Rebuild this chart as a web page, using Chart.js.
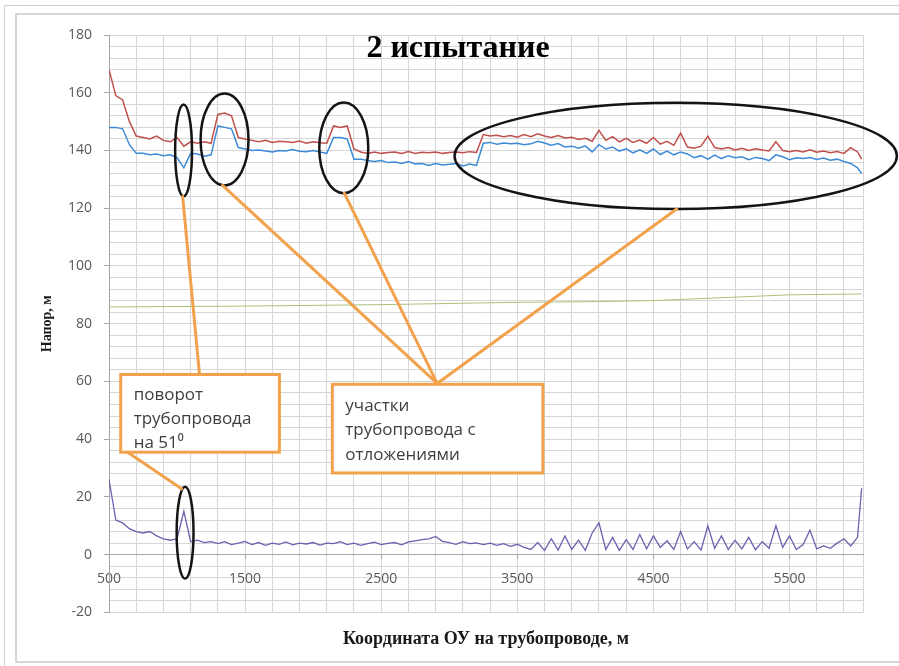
<!DOCTYPE html>
<html>
<head>
<meta charset="utf-8">
<script src="https://cdn.jsdelivr.net/npm/chart.js@4.4.1/dist/chart.umd.min.js"></script>
<style>
  html, body { margin: 0; padding: 0; background: #fff; }
  #wrap { width: 899px; height: 666px; }
</style>
</head>
<body>
<div id="wrap"><canvas id="chart" width="899" height="666"></canvas></div>
<script>
// координаты ОУ (м)
const coords = [
  500, 550, 600, 650, 700, 750, 800, 850, 900, 950,
  1000, 1050, 1100, 1150, 1200, 1250, 1300, 1350, 1400, 1450,
  1500, 1550, 1600, 1650, 1700, 1750, 1800, 1850, 1900, 1950,
  2000, 2050, 2100, 2150, 2200, 2250, 2300, 2350, 2400, 2450,
  2500, 2550, 2600, 2650, 2700, 2750, 2800, 2850, 2900, 2950,
  3000, 3050, 3100, 3150, 3200, 3250, 3300, 3350, 3400, 3450,
  3500, 3550, 3600, 3650, 3700, 3750, 3800, 3850, 3900, 3950,
  4000, 4050, 4100, 4150, 4200, 4250, 4300, 4350, 4400, 4450,
  4500, 4550, 4600, 4650, 4700, 4750, 4800, 4850, 4900, 4950,
  5000, 5050, 5100, 5150, 5200, 5250, 5300, 5350, 5400, 5450,
  5500, 5550, 5600, 5650, 5700, 5750, 5800, 5850, 5900, 5950,
  6000, 6030
];

// напор, верхняя (красная) кривая
const headRed = [
  168, 159, 157.5, 150, 145, 144.5, 144, 145, 143.5, 143,
  144.5, 141.5, 143, 142.5, 143, 142.5, 152.5, 153, 152, 144.5,
  144, 143.5, 143, 143.5, 142.8, 143.2, 143, 142.8, 143.3, 142.5,
  143, 142.7, 142.5, 148.5, 148, 148.5, 140.5, 139.5, 139, 139.5,
  139, 139.3, 139.5, 139, 139.6, 139, 139.4, 139.2, 139.5, 139,
  139.3, 139.5, 139.2, 139.6, 139.3, 145.5, 145, 145.3, 144.8, 145.2,
  144.6, 145.5, 144.8, 145.8, 145, 144.5, 145.2, 144.3, 144.6, 143.8,
  144.2, 143.2, 147, 143.5, 144.8, 143, 144.2, 142.8, 143.6, 142.5,
  144.5, 142.2, 143.2, 141.8, 146, 141.2, 140.8, 141.5, 145, 141,
  140.5, 141, 140.2, 140.8, 140, 140.6, 140.2, 139.8, 143, 140,
  139.6, 140, 139.5, 140.2, 139.4, 139.8, 139.2, 139.6, 139, 141,
  139.5, 137
];

// напор, нижняя (синяя) кривая
const headBlue = [
  148, 148, 147.5, 142, 139, 139, 138.5, 138.8, 138.2, 138.5,
  137.5, 134, 139, 138.8, 138, 138.5, 148.5, 148, 147.5, 141,
  140.5, 140, 140.2, 139.8, 139.5, 140, 139.8, 140.3, 139.7, 139.6,
  140, 139.5, 139, 144.5, 144.5, 144, 137, 137, 136.5, 136.2,
  136.5, 135.8, 136, 135.5, 136.2, 135.3, 135.5, 134.8, 135.5, 135,
  135.2, 135.5, 134.6, 135.3, 134.8, 142.5, 142.8, 142.2, 142.6, 142.3,
  142.5, 142, 142.3, 143.2, 142.6, 141.8, 142.4, 141.2, 141.5, 140.8,
  141.6, 139.5, 142, 140.5, 141.2, 139.8, 140.6, 139.2, 140.2, 139,
  140.5, 138.6, 139.8, 138.5, 139.5, 138.8, 137.5, 138.2, 137, 138.4,
  137.2, 138.2, 137.5, 137.8, 136.8, 137.6, 137.2, 136.5, 138.5, 137.8,
  136.8, 137.5, 137.2, 137.6, 136.9, 137.4, 136.6, 137, 136.2, 135.5,
  134, 132
];

// разность напоров (фиолетовая)
const headDiff = [
  26, 12, 11, 9, 8, 7.5, 8, 6.5, 5.5, 5,
  5.5, 15, 4.5, 5, 4.2, 4.5, 3.8, 4.5, 3.5, 4,
  4.6, 3.5, 4.2, 3.2, 4, 3.6, 4.4, 3.4, 4, 3.7,
  4.2, 3.3, 4, 3.8, 4.5, 3.5, 4, 3.2, 3.8, 4.3,
  3.5, 3.9, 4.2, 3.4, 4.4, 4.8, 5.2, 5.5, 6.3, 4.6,
  4.2, 3.6, 4.5, 3.8, 4.1, 3.5, 4, 3.2, 3.8, 2.9,
  3.6, 2.5, 1.8, 4.2, 1.5, 5.5, 1.6, 6.5, 1.8, 5,
  1.5, 7.5, 11, 1.8, 6, 1.5, 5.2, 1.8, 7, 2,
  6.5, 2.5, 4.8, 1.8, 8, 2, 4.5, 1.6, 10, 2.2,
  6.5, 1.8, 5, 2, 6, 1.7, 4.5, 2.2, 10, 2.5,
  6.5, 1.8, 3.5, 8.5, 2, 3, 2.2, 4, 5.5, 3,
  6, 23
];

// профиль (зелёная)
const profileCoords = [500, 1500, 2500, 3000, 3500, 4000, 4500, 5000, 5500, 6030];
const profileVals = [85.8, 86.1, 86.6, 87, 87.4, 87.6, 88, 89, 90, 90.3];

const xLabelTicks = [500, 1500, 2500, 3500, 4500, 5500];
const yLabelTicks = [-20, 0, 20, 40, 60, 80, 100, 120, 140, 160, 180];

const toPts = (xs, ys) => xs.map((v, i) => ({ x: v, y: ys[i] }));

const annotate = {
  id: 'annotate',
  beforeDraw(chart) {
    const ctx = chart.ctx;
    ctx.save();
    ctx.fillStyle = '#fff';
    ctx.fillRect(0, 0, chart.width, chart.height);
    ctx.strokeStyle = '#cfcfcf';
    ctx.lineWidth = 1;
    ctx.beginPath();
    ctx.moveTo(4.5, 666); ctx.lineTo(4.5, 5.5); ctx.lineTo(899, 5.5);
    ctx.stroke();
    ctx.lineWidth = 2;
    ctx.strokeStyle = '#d6d6d6';
    ctx.beginPath();
    ctx.moveTo(899, 14); ctx.lineTo(16, 14); ctx.lineTo(16, 662); ctx.lineTo(899, 662);
    ctx.stroke();
    ctx.restore();
  },
  afterDatasetsDraw(chart) {
    const { ctx, scales: { x, y } } = chart;
    const px = v => x.getPixelForValue(v);
    const py = v => y.getPixelForValue(v);
    ctx.save();

    // эллипсы
    const ellipses = [
      [1048, 140, 62, 15.9],
      [1349, 143.8, 176, 15.9],
      [2225, 140.9, 180, 15.7],
      [4664, 138.1, 1625, 18.4],
      [1059, 7.6, 62, 15.9]
    ];
    ctx.strokeStyle = '#141414';
    ctx.lineWidth = 2.5;
    ellipses.forEach(([cx, cy, rx, ry]) => {
      ctx.beginPath();
      ctx.ellipse(px(cx), py(cy), Math.abs(px(cx + rx) - px(cx)), Math.abs(py(cy + ry) - py(cy)), 0, 0, Math.PI * 2);
      ctx.stroke();
    });

    // выноски
    const leaders = [
      [1041, 124.1, 1165, 62.4],
      [1334, 127.9, 2911, 59.3],
      [2229, 125.2, 2911, 59.3],
      [4671, 119.7, 2911, 59.3],
      [615, 36.2, 1033, 22.8]
    ];
    ctx.strokeStyle = '#f2a24c';
    ctx.lineWidth = 3;
    ctx.lineCap = 'round';
    leaders.forEach(([x1, y1, x2, y2]) => {
      ctx.beginPath();
      ctx.moveTo(px(x1), py(y1));
      ctx.lineTo(px(x2), py(y2));
      ctx.stroke();
    });

    // подписи в рамках
    const boxes = [
      { x1: 586, x2: 1752, top: 62.4, bottom: 35.5, lines: ['поворот', 'трубопровода', 'на 51⁰'], dy: [21, 45, 69] },
      { x1: 2141, x2: 3688, top: 59.0, bottom: 28.3, lines: ['участки', 'трубопровода с', 'отложениями'], dy: [22, 46, 71] }
    ];
    boxes.forEach(b => {
      const l = px(b.x1), r = px(b.x2), t = py(b.top), btm = py(b.bottom);
      ctx.fillStyle = '#fff';
      ctx.fillRect(l, t, r - l, btm - t);
      ctx.strokeStyle = '#f2a24c';
      ctx.lineWidth = 3;
      ctx.lineCap = 'butt';
      ctx.strokeRect(l, t, r - l, btm - t);
      ctx.fillStyle = '#3f3f3f';
      ctx.font = '17px "Open Sans"';
      ctx.textAlign = 'left';
      ctx.textBaseline = 'middle';
      b.lines.forEach((s, i) => ctx.fillText(s, l + 13, t + b.dy[i]));
    });

    // заголовок
    ctx.fillStyle = '#000';
    ctx.font = 'bold 32px "Liberation Serif"';
    ctx.textAlign = 'center';
    ctx.textBaseline = 'middle';
    ctx.fillText('2 испытание', 458, 49);
    ctx.restore();
  }
};

const gridColor = '#d6d6d6';

new Chart(document.getElementById('chart'), {
  type: 'line',
  data: {
    datasets: [
      { data: toPts(coords, headRed), borderColor: '#c0504d', borderWidth: 1.5 },
      { data: toPts(coords, headBlue), borderColor: '#3d8ad6', borderWidth: 1.5 },
      { data: toPts(profileCoords, profileVals), borderColor: '#a9c27a', borderWidth: 1 },
      { data: toPts(coords, headDiff), borderColor: '#6f5fae', borderWidth: 1.3 }
    ]
  },
  options: {
    responsive: false,
    animation: false,
    devicePixelRatio: 1,
    layout: { padding: { left: 35, top: 35, right: 36, bottom: 8 } },
    elements: { point: { radius: 0 }, line: { tension: 0 } },
    scales: {
      x: {
        type: 'linear',
        min: 500,
        max: 6040,
        position: { y: 0 },
        afterFit: s => { s.height = 0; },
        afterBuildTicks: s => {
          const t = [];
          for (let v = 500; v <= 6040; v += 200) t.push({ value: v });
          t.push({ value: 6040 });
          s.ticks = t;
        },
        grid: {
          color: gridColor,
          tickLength: 4,
          tickColor: c => (c.tick && xLabelTicks.includes(c.tick.value)) ? '#a6a6a6' : 'rgba(0,0,0,0)'
        },
        border: { color: '#a6a6a6' },
        ticks: {
          autoSkip: false,
          maxRotation: 0,
          minRotation: 0,
          padding: 12,
          color: '#595959',
          font: { family: 'Open Sans', size: 14 },
          callback: v => xLabelTicks.includes(v) ? String(v) : ''
        }
      },
      y: {
        min: -20,
        max: 180,
        afterFit: s => { s.width = 74; },
        afterBuildTicks: s => {
          const t = [];
          for (let v = -20; v <= 180; v += 4) t.push({ value: v });
          s.ticks = t;
        },
        grid: {
          color: gridColor,
          tickLength: 5,
          tickColor: c => (c.tick && yLabelTicks.includes(c.tick.value)) ? '#a6a6a6' : 'rgba(0,0,0,0)'
        },
        border: { color: '#a6a6a6' },
        ticks: {
          autoSkip: false,
          padding: 12,
          color: '#595959',
          font: { family: 'Open Sans', size: 14 },
          callback: v => yLabelTicks.includes(v) ? String(v) : ''
        },
        title: {
          display: true,
          text: 'Напор, м',
          color: '#1a1a1a',
          font: { family: 'Liberation Serif', size: 14, weight: 'bold' },
          padding: { top: 4, bottom: 4 }
        }
      }
    },
    plugins: {
      legend: { display: false },
      tooltip: { enabled: false },
      title: {
        display: true,
        position: 'bottom',
        fullSize: false,
        text: 'Координата ОУ на трубопроводе, м',
        color: '#1a1a1a',
        font: { family: 'Liberation Serif', size: 18, weight: 'bold' },
        padding: { top: 16, bottom: 8 }
      }
    }
  },
  plugins: [annotate]
});
</script>
</body>
</html>
